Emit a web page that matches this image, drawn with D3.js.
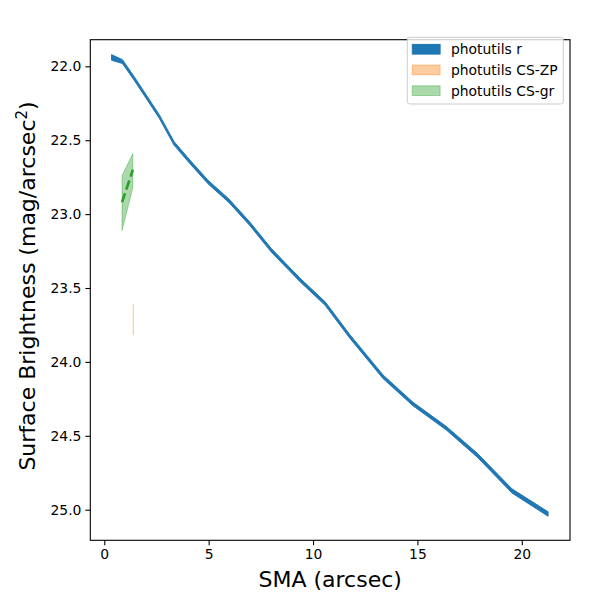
<!DOCTYPE html>
<html>
<head>
<meta charset="utf-8">
<script src="https://cdn.jsdelivr.net/npm/d3@7"></script>
<style>
  body { margin: 0; background: #fff; }
  text { font-family: "DejaVu Sans", sans-serif; }
</style>
</head>
<body>
<div id="chart"></div>
<script>
// photutils r profile
const smaR = [0.35, 0.87, 1.42, 2.05, 2.64, 3.34, 4.11, 4.97, 5.98, 6.98, 7.99, 9.38, 10.58, 11.77, 13.35, 14.79, 16.37, 17.86, 19.53, 21.26]
const magR = [21.94, 21.968, 22.08, 22.214, 22.341, 22.521, 22.648, 22.783, 22.911, 23.067, 23.243, 23.446, 23.605, 23.829, 24.10, 24.285, 24.447, 24.63, 24.873, 25.029]
const errR = [0.019, 0.013, 0.012, 0.012, 0.012, 0.012, 0.012, 0.012, 0.012, 0.012, 0.012, 0.012, 0.012, 0.012, 0.012, 0.012, 0.012, 0.013, 0.014, 0.015]

// photutils CS-ZP
const smaZP = [1.39, 1.39]
const loZP = [23.61, 23.61]
const hiZP = [23.82, 23.82]

// photutils CS-gr
const smaGR = [0.85, 1.37]
const magGR = [22.92, 22.70]
const loGR = [22.74, 22.59]
const hiGR = [23.11, 22.82]

const xTicks = [0, 5, 10, 15, 20]
const yTicks = [22.0, 22.5, 23.0, 23.5, 24.0, 24.5, 25.0]
const legendLabels = ["photutils r", "photutils CS-ZP", "photutils CS-gr"]

const width = 600
const height = 600
const axLeft = 90.3, axRight = 570, axTop = 39.7, axBottom = 540.3

const svg = d3.select("#chart")
  .append("svg")
  .attr("width", width)
  .attr("height", height)

const x = d3.scaleLinear().domain([-0.67, 22.31]).range([axLeft, axRight])
const y = d3.scaleLinear().domain([21.82, 25.207]).range([axTop, axBottom])

const area = d3.area()
  .x(d => x(d.x))
  .y0(d => y(d.lo))
  .y1(d => y(d.hi))

const band = (xs, lo, hi) => xs.map((v, i) => ({ x: v, lo: lo[i], hi: hi[i] }))

const plot = svg.append("g")

// blue band
plot.append("path")
  .datum(band(smaR, magR.map((m, i) => m - errR[i]), magR.map((m, i) => m + errR[i])))
  .attr("d", area)
  .attr("fill", "#1f77b4")
  .attr("stroke", "#1f77b4")
  .attr("stroke-width", 1)

// orange band (collapsed)
plot.append("path")
  .datum(band(smaZP, loZP, hiZP))
  .attr("d", area)
  .attr("fill", "#ff7f0e")
  .attr("fill-opacity", 0.4)
  .attr("stroke", "#ff7f0e")
  .attr("stroke-opacity", 0.4)
  .attr("stroke-width", 1.2)

// green band
plot.append("path")
  .datum(band(smaGR, loGR, hiGR))
  .attr("d", area)
  .attr("fill", "#2ca02c")
  .attr("fill-opacity", 0.4)
  .attr("stroke", "#2ca02c")
  .attr("stroke-opacity", 0.4)
  .attr("stroke-width", 1)

plot.append("path")
  .datum(smaGR.map((v, i) => [v, magGR[i]]))
  .attr("d", d3.line().x(d => x(d[0])).y(d => y(d[1])))
  .attr("fill", "none")
  .attr("stroke", "#2ca02c")
  .attr("stroke-width", 2.6)
  .attr("stroke-dasharray", "9.5,4")

// axes
const xAxis = svg.append("g")
  .attr("transform", `translate(0,${axBottom})`)
  .call(d3.axisBottom(x).tickValues(xTicks).tickSize(4.9).tickPadding(4).tickFormat(d3.format("d")))
const yAxis = svg.append("g")
  .attr("transform", `translate(${axLeft},0)`)
  .call(d3.axisLeft(y).tickValues(yTicks).tickSize(4.9).tickPadding(4).tickFormat(d3.format(".1f")))

;[xAxis, yAxis].forEach(a => {
  a.select(".domain").remove()
  a.selectAll("line").attr("stroke", "#000").attr("stroke-width", 1.1)
  a.selectAll("text")
    .attr("fill", "#000")
    .style("font-size", "13.9px")
    .style("font-family", "DejaVu Sans")
})

svg.append("rect")
  .attr("x", axLeft)
  .attr("y", axTop)
  .attr("width", axRight - axLeft)
  .attr("height", axBottom - axTop)
  .attr("fill", "none")
  .attr("stroke", "#000")
  .attr("stroke-width", 1.1)

// axis labels
svg.append("text")
  .attr("x", (axLeft + axRight) / 2)
  .attr("y", 587)
  .attr("text-anchor", "middle")
  .style("font-size", "22px")
  .text("SMA (arcsec)")

const yl = svg.append("text")
  .attr("transform", `translate(35,${(axTop + axBottom) / 2 - 4}) rotate(-90)`)
  .attr("text-anchor", "middle")
  .style("font-size", "22px")
yl.append("tspan").text("Surface Brightness (mag/arcsec")
yl.append("tspan").attr("dy", -8).style("font-size", "15px").text("2")
yl.append("tspan").attr("dy", 8).text(")")

// legend
const legend = svg.append("g")
legend.append("rect")
  .attr("x", 407.3)
  .attr("y", 37.3)
  .attr("width", 156)
  .attr("height", 66.7)
  .attr("rx", 2.5)
  .attr("fill", "#fff")
  .attr("fill-opacity", 0.8)
  .attr("stroke", "#cccccc")
  .attr("stroke-width", 1)

const legendColors = [
  { c: "#1f77b4", o: 1 },
  { c: "#ff7f0e", o: 0.4 },
  { c: "#2ca02c", o: 0.4 }
]
legendLabels.forEach((label, i) => {
  const cy = 49.3 + i * 20.7
  legend.append("rect")
    .attr("x", 412.3)
    .attr("y", cy - 4.9)
    .attr("width", 27.8)
    .attr("height", 9.7)
    .attr("fill", legendColors[i].c)
    .attr("fill-opacity", legendColors[i].o)
    .attr("stroke", legendColors[i].c)
    .attr("stroke-opacity", legendColors[i].o)
    .attr("stroke-width", 1)
  legend.append("text")
    .attr("x", 451)
    .attr("y", cy)
    .attr("dy", "0.35em")
    .style("font-size", "13.9px")
    .text(label)
})
</script>
</body>
</html>
